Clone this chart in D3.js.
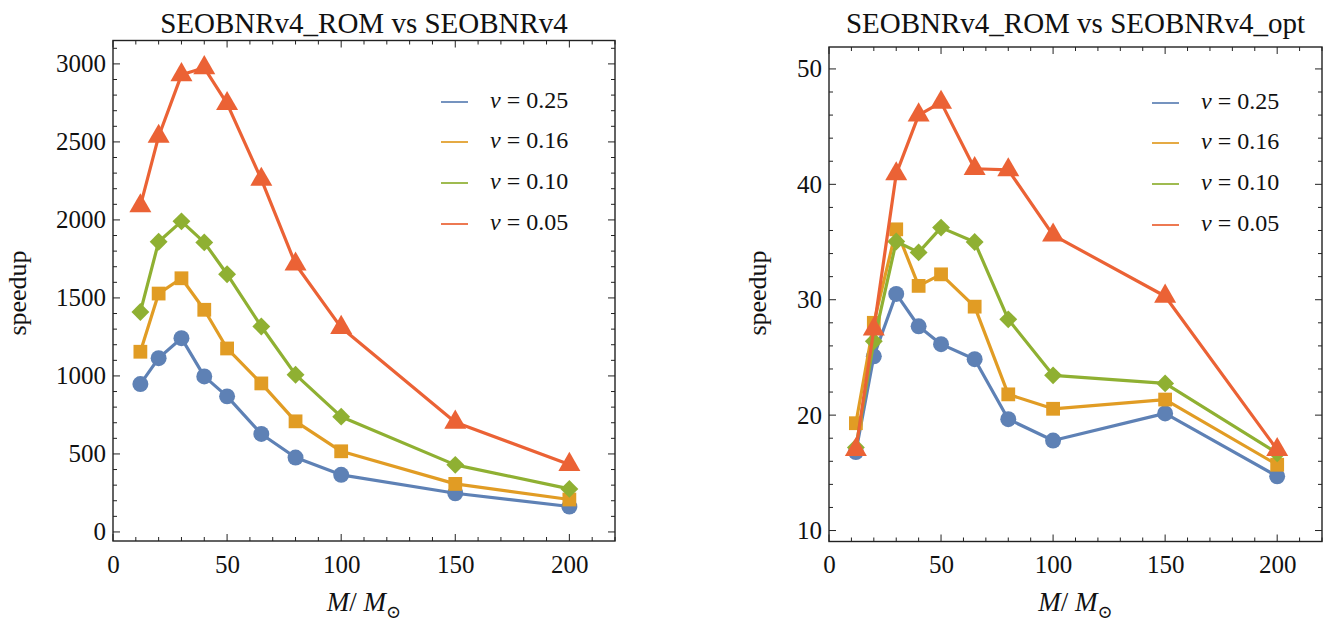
<!DOCTYPE html>
<html><head><meta charset="utf-8">
<script src="https://cdn.jsdelivr.net/npm/d3@7"></script>
<style>
body{margin:0;background:#fff;}
svg text{font-family:"Liberation Serif","DejaVu Serif",serif !important;fill:#111;}
</style></head>
<body><svg id="c" width="1330" height="622"></svg>
<script>
const masses = [12, 20, 30, 40, 50, 65, 80, 100, 150, 200];
const seriesNames = ["0.25", "0.16", "0.10", "0.05"];
const colors = ["#5E81B5", "#E19C24", "#8FB032", "#EB6235"];
const markers = ["circle", "square", "diamond", "triangle"];

// SEOBNRv4_ROM vs SEOBNRv4
const leftNu025 = [948, 1114, 1242, 997, 869, 628, 477, 366, 248, 163];
const leftNu016 = [1155, 1528, 1626, 1424, 1176, 952, 709, 517, 308, 208];
const leftNu010 = [1410, 1860, 1991, 1856, 1652, 1317, 1008, 739, 430, 276];
const leftNu005 = [2090, 2535, 2930, 2975, 2745, 2260, 1716, 1310, 703, 432];

// SEOBNRv4_ROM vs SEOBNRv4_opt
const rightNu025 = [16.8, 25.1, 30.5, 27.7, 26.15, 24.85, 19.65, 17.8, 20.15, 14.7];
const rightNu016 = [19.3, 28.0, 36.1, 31.2, 32.2, 29.4, 21.8, 20.55, 21.35, 15.7];
const rightNu010 = [17.2, 26.4, 35.05, 34.1, 36.25, 35.0, 28.3, 23.45, 22.75, 16.7];
const rightNu005 = [17.0, 27.45, 40.9, 46.0, 47.1, 41.35, 41.25, 35.6, 30.3, 17.0];

const xTicks = [0, 50, 100, 150, 200];
const leftYTicks = [0, 500, 1000, 1500, 2000, 2500, 3000];
const rightYTicks = [10, 20, 30, 40, 50];

const titles = ["SEOBNRv4_ROM vs SEOBNRv4", "SEOBNRv4_ROM vs SEOBNRv4_opt"];

const svg = d3.select("#c");
const FONT = "Liberation Serif, DejaVu Serif, serif";

function symbolPath(kind) {
  if (kind === "circle") return d3.symbol(d3.symbolCircle, 200)();
  if (kind === "square") return d3.symbol(d3.symbolSquare, 190)();
  if (kind === "diamond") return d3.symbol(d3.symbolSquare, 160)();
  return d3.symbol(d3.symbolTriangle, 210)();
}

function panel(cfg) {
  const g = svg.append("g");
  const x = d3.scaleLinear().domain([0, 220]).range(cfg.xr);
  const y = d3.scaleLinear().domain(cfg.yd).range(cfg.yr);
  const [x0, x1] = cfg.xr, [y0, y1] = cfg.yr;

  const minorX = d3.range(0, 221, 10);
  const minorY = d3.range(Math.ceil(cfg.yd[0] / cfg.minorY) * cfg.minorY, cfg.yd[1], cfg.minorY);
  const tk = g.append("g").attr("stroke", "#222").attr("stroke-width", 1);
  minorX.forEach(v => {
    const len = (v % 50 === 0) ? 7 : 4;
    tk.append("line").attr("x1", x(v)).attr("x2", x(v)).attr("y1", y0).attr("y2", y0 - len);
    tk.append("line").attr("x1", x(v)).attr("x2", x(v)).attr("y1", y1).attr("y2", y1 + len);
  });
  minorY.forEach(v => {
    const major = Math.abs(v / cfg.majorY - Math.round(v / cfg.majorY)) < 1e-6;
    const len = major ? 7 : 4;
    tk.append("line").attr("y1", y(v)).attr("y2", y(v)).attr("x1", x0).attr("x2", x0 + len);
    tk.append("line").attr("y1", y(v)).attr("y2", y(v)).attr("x1", x1).attr("x2", x1 - len);
  });

  const xa = g.append("g").attr("transform", `translate(0,${y0})`)
    .call(d3.axisBottom(x).tickValues(xTicks).tickFormat(d3.format("d")).tickSize(0).tickPadding(14));
  const ya = g.append("g").attr("transform", `translate(${x0},0)`)
    .call(d3.axisLeft(y).tickValues(cfg.yTicks).tickFormat(d3.format("d")).tickSize(0).tickPadding(7));
  [xa, ya].forEach(a => {
    a.attr("font-family", FONT);
    a.select(".domain").remove();
    a.selectAll("text").attr("font-family", FONT).attr("font-size", 25).attr("fill", "#111");
  });

  g.append("rect").attr("x", x0).attr("y", y1).attr("width", x1 - x0).attr("height", y0 - y1)
    .attr("fill", "none").attr("stroke", "#222").attr("stroke-width", 1.4);

  const line = d3.line().x((d, i) => x(masses[i])).y(d => y(d));
  cfg.series.forEach((vals, s) => {
    g.append("path").datum(vals).attr("d", line).attr("fill", "none")
      .attr("stroke", colors[s]).attr("stroke-width", 3.2).attr("stroke-linejoin", "round");
    g.append("g").selectAll("path").data(vals).join("path")
      .attr("d", symbolPath(markers[s]))
      .attr("transform", (d, i) => `translate(${x(masses[i])},${y(d)})` + (markers[s] === "diamond" ? " rotate(45)" : ""))
      .attr("fill", colors[s]);
  });

  g.append("text").attr("x", (x0 + x1) / 2).attr("y", 33).attr("text-anchor", "middle")
    .attr("font-family", FONT).attr("font-size", 29).text(cfg.title);

  g.append("text").attr("transform", `translate(${cfg.ylabX},293) rotate(-90)`)
    .attr("text-anchor", "middle").attr("dominant-baseline", "middle")
    .attr("font-family", FONT).attr("font-size", 26).text("speedup");

  const xl = g.append("text").attr("x", (x0 + x1) / 2).attr("y", 611).attr("text-anchor", "middle")
    .attr("font-family", FONT).attr("font-size", 27);
  xl.append("tspan").attr("font-style", "italic").text("M");
  xl.append("tspan").text("/ ");
  xl.append("tspan").attr("font-style", "italic").text("M");
  xl.append("tspan").attr("font-size", 18).attr("dy", 7).text("\u2299");

  seriesNames.forEach((n, s) => {
    const ly = cfg.legY[s];
    g.append("line").attr("x1", cfg.legX).attr("x2", cfg.legX + 27).attr("y1", ly).attr("y2", ly)
      .attr("stroke", colors[s]).attr("stroke-width", 2).attr("opacity", 0.85);
    const t = g.append("text").attr("x", cfg.legX + 49).attr("y", ly).attr("dominant-baseline", "middle")
      .attr("font-family", FONT).attr("font-size", 24);
    t.append("tspan").attr("font-style", "italic").text("\u03BD");
    t.append("tspan").text(" = " + n);
  });
}

panel({
  xr: [113, 615], yr: [541, 40.5], yd: [-58, 3150],
  yTicks: leftYTicks, majorY: 500, minorY: 100,
  series: [leftNu025, leftNu016, leftNu010, leftNu005],
  title: titles[0], ylabX: 20, legX: 441, legY: [102, 142, 183, 224]
});
panel({
  xr: [829, 1322], yr: [541.5, 47], yd: [9.05, 51.9],
  yTicks: rightYTicks, majorY: 10, minorY: 2,
  series: [rightNu025, rightNu016, rightNu010, rightNu005],
  title: titles[1], ylabX: 760, legX: 1152, legY: [103, 143, 184, 225]
});
</script></body></html>
